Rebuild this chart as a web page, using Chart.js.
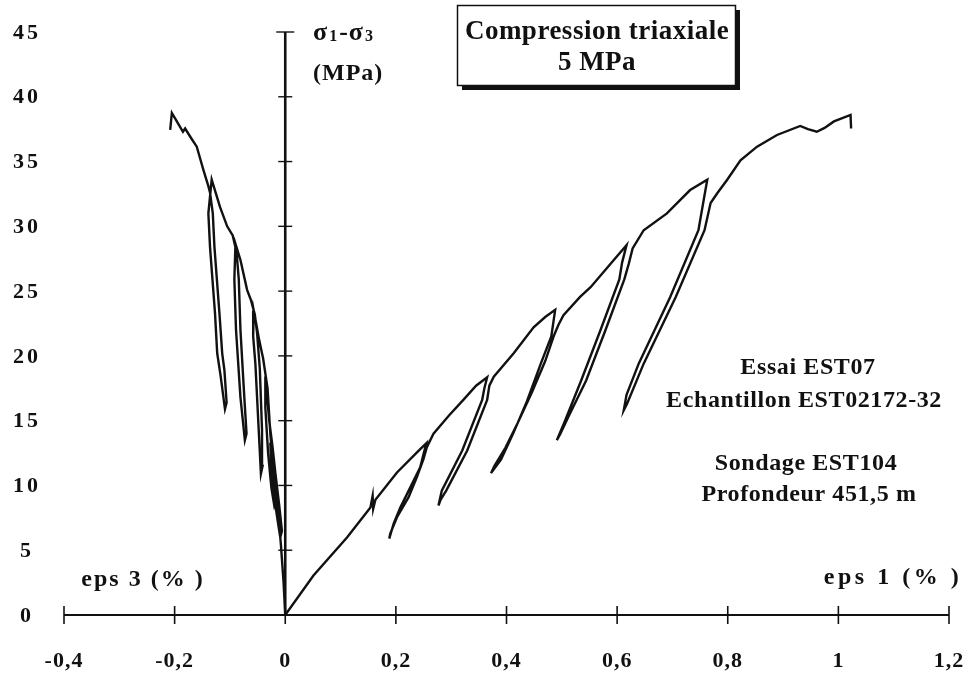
<!DOCTYPE html>
<html>
<head>
<meta charset="utf-8">
<script src="https://cdn.jsdelivr.net/npm/chart.js@4.4.0/dist/chart.umd.min.js"></script>
<style>
    html, body { margin: 0; padding: 0; background: #fff; }
    canvas { display: block; }
</style>
</head>
<body>
<canvas id="chart" width="971" height="675"></canvas>
<script>
(function () {
    "use strict";

    // Axial branch: eps 1 (%) vs sigma1 - sigma3 (MPa)
    const eps1 = [0, 0.051, 0.112, 0.154, 0.158, 0.159, 0.163, 0.202, 0.244, 0.255,
        0.244, 0.229, 0.208, 0.196, 0.188, 0.190, 0.202, 0.223, 0.238, 0.250, 0.256,
        0.268, 0.296, 0.322, 0.345, 0.365,
        0.360, 0.356, 0.320, 0.283, 0.277, 0.281, 0.291, 0.329, 0.365, 0.369,
        0.377, 0.413, 0.449, 0.470, 0.488,
        0.481, 0.462, 0.437, 0.412, 0.390, 0.372, 0.378, 0.398, 0.420, 0.446, 0.470, 0.486, 0.494,
        0.503, 0.533, 0.552, 0.594, 0.617,
        0.609, 0.604, 0.570, 0.535, 0.504, 0.491, 0.497, 0.513, 0.544, 0.579, 0.613, 0.621, 0.628,
        0.648, 0.690, 0.732, 0.763,
        0.758, 0.747, 0.696, 0.639, 0.617, 0.612, 0.618, 0.648, 0.706, 0.758, 0.769,
        0.781, 0.799, 0.823, 0.853, 0.889, 0.931, 0.945, 0.961, 0.975, 0.992, 1.022, 1.023];
    const stress1 = [0, 3.05, 6.0, 8.3, 9.2, 8.2, 8.9, 11.0, 12.8, 13.25,
        11.4, 10.1, 8.3, 7.05, 5.9, 6.3, 7.55, 9.1, 10.65, 12.05, 12.95,
        14.0, 15.4, 16.6, 17.7, 18.35,
        17.5, 16.6, 12.7, 9.6, 8.45, 8.9, 9.6, 12.7, 16.6, 17.7,
        18.4, 20.2, 22.2, 23.0, 23.55,
        21.5, 19.4, 16.5, 14.0, 12.0, 10.95, 11.5, 12.9, 14.8, 17.2, 19.6, 21.6, 22.4,
        23.15, 24.55, 25.3, 27.4, 28.55,
        27.2, 25.9, 22.0, 18.1, 14.8, 13.5, 13.95, 15.4, 18.1, 22.0, 25.9, 27.1, 28.3,
        29.7, 31.0, 32.8, 33.6,
        32.4, 29.7, 24.55, 19.4, 17.0, 15.8, 16.3, 19.4, 24.55, 29.7, 31.8,
        32.55, 33.6, 35.1, 36.15, 37.05, 37.75, 37.5, 37.3, 37.6, 38.1, 38.6, 37.55];

    // Lateral branch: eps 3 (%) vs sigma1 - sigma3 (MPa)
    const eps3 = [0, -0.003, -0.008, -0.014, -0.020, -0.025, -0.027,
        -0.025, -0.018, -0.012, -0.009, -0.006, -0.011, -0.018, -0.023,
        -0.029, -0.033, -0.036,
        -0.036, -0.031, -0.025, -0.020, -0.017, -0.021, -0.027, -0.032,
        -0.040, -0.047, -0.053, -0.057,
        -0.058, -0.054, -0.048, -0.044, -0.041, -0.042, -0.046, -0.051, -0.055,
        -0.062, -0.069, -0.081, -0.090,
        -0.092, -0.089, -0.081, -0.073, -0.070, -0.074, -0.081, -0.084, -0.088,
        -0.095, -0.105, -0.118, -0.133,
        -0.139, -0.136, -0.127, -0.123, -0.117, -0.109, -0.106, -0.110, -0.114, -0.119, -0.128, -0.131, -0.136,
        -0.139, -0.148, -0.160, -0.170, -0.181, -0.185, -0.196, -0.205, -0.208];
    const stress3 = [0, 2.5, 5.5, 8.5, 10.8, 12.5, 13.3,
        11.5, 8.5, 6.8, 6.0, 6.5, 8.5, 11.0, 13.0,
        15.0, 17.0, 18.4,
        16.0, 12.5, 9.8, 8.5, 9.0, 11.0, 14.0, 17.5,
        19.8, 21.2, 22.6, 23.5,
        21.5, 19.4, 14.3, 10.9, 11.5, 14.3, 19.0, 21.8, 23.2,
        24.3, 25.1, 27.4, 28.65,
        25.9, 22.0, 16.8, 13.5, 14.0, 16.8, 22.0, 25.9, 28.0,
        29.3, 30.0, 31.5, 33.6,
        31.0, 28.4, 23.3, 20.2, 18.5, 15.9, 16.4, 18.9, 20.2, 23.3, 28.4, 31.0, 32.6,
        33.1, 34.35, 36.15, 36.8, 37.55, 37.3, 38.1, 38.75, 37.45];

    const xTicks = [-0.4, -0.2, 0, 0.2, 0.4, 0.6, 0.8, 1, 1.2];
    const xTickLabels = ["-0,4", "-0,2", "0", "0,2", "0,4", "0,6", "0,8", "1", "1,2"];
    const yTicks = [0, 5, 10, 15, 20, 25, 30, 35, 40, 45];
    const yTickLabels = ["0", "5", "10", "15", "20", "25", "30", "35", "40", "45"];

    const font = (s) => "bold " + s + "px 'Liberation Serif', 'Times New Roman', serif";

    const toPoints = (xs, ys) => xs.map((x, i) => ({ x: x, y: ys[i] }));

    // Axes drawn at x = 0 and y = 0, like the original figure
    const crossAxes = {
        id: "crossAxes",
        beforeDatasetsDraw(chart) {
            const ctx = chart.ctx;
            const xs = chart.scales.x;
            const ys = chart.scales.y;
            const y0 = ys.getPixelForValue(0);
            const x0 = xs.getPixelForValue(0);

            ctx.save();
            ctx.strokeStyle = "#111";
            ctx.lineCap = "butt";

            // horizontal axis
            ctx.lineWidth = 2;
            ctx.beginPath();
            ctx.moveTo(xs.getPixelForValue(xTicks[0]), y0);
            ctx.lineTo(xs.getPixelForValue(xTicks[xTicks.length - 1]), y0);
            ctx.stroke();
            ctx.lineWidth = 1.6;
            xTicks.forEach((t) => {
                const px = xs.getPixelForValue(t);
                ctx.beginPath();
                ctx.moveTo(px, y0 - 9);
                ctx.lineTo(px, y0 + 9);
                ctx.stroke();
            });

            // vertical axis
            ctx.lineWidth = 2.6;
            ctx.beginPath();
            ctx.moveTo(x0, y0);
            ctx.lineTo(x0, ys.getPixelForValue(yTicks[yTicks.length - 1]));
            ctx.stroke();
            ctx.lineWidth = 1.4;
            yTicks.forEach((t, i) => {
                if (t === 0) return;
                const py = ys.getPixelForValue(t);
                const w = i === yTicks.length - 1 ? 9 : 7;
                ctx.beginPath();
                ctx.moveTo(x0 - w, py);
                ctx.lineTo(x0 + w, py);
                ctx.stroke();
            });

            // tick labels
            ctx.fillStyle = "#111";
            ctx.font = font(22);
            ctx.textAlign = "center";
            ctx.textBaseline = "middle";
            ctx.letterSpacing = "1px";
            xTicks.forEach((t, i) => {
                ctx.fillText(xTickLabels[i], xs.getPixelForValue(t), y0 + 46);
            });
            ctx.letterSpacing = "3px";
            yTicks.forEach((t, i) => {
                ctx.fillText(yTickLabels[i], 27, ys.getPixelForValue(t) + 1);
            });
            ctx.restore();
        },
        afterDraw(chart) {
            const ctx = chart.ctx;
            ctx.save();
            ctx.fillStyle = "#111";
            ctx.strokeStyle = "#111";
            ctx.textBaseline = "middle";

            // y axis title
            ctx.textAlign = "left";
            ctx.letterSpacing = "1px";
            ctx.font = font(26);
            let x = 313;
            ctx.fillText("σ", x, 33);
            x += ctx.measureText("σ").width + 1;
            ctx.font = font(16);
            ctx.fillText("1", x, 37);
            x += ctx.measureText("1").width + 1;
            ctx.font = font(26);
            ctx.fillText("-σ", x, 33);
            x += ctx.measureText("-σ").width + 1;
            ctx.font = font(16);
            ctx.fillText("3", x, 37);
            ctx.font = font(24);
            ctx.fillText("(MPa)", 313, 74);

            // framed title with shadow
            ctx.letterSpacing = "0px";
            ctx.lineWidth = 1.5;
            ctx.strokeRect(457.5, 5.5, 278, 80);
            ctx.lineWidth = 4;
            ctx.beginPath();
            ctx.moveTo(738, 10);
            ctx.lineTo(738, 88);
            ctx.lineTo(462, 88);
            ctx.stroke();
            ctx.textAlign = "center";
            ctx.font = font(27);
            ctx.letterSpacing = "0.5px";
            ctx.fillText("Compression triaxiale", 597, 32);
            ctx.fillText("5 MPa", 597, 63);

            // sample information
            ctx.font = font(24);
            ctx.letterSpacing = "0.6px";
            ctx.fillText("Essai EST07", 808, 368);
            ctx.fillText("Echantillon EST02172-32", 804, 401);
            ctx.fillText("Sondage EST104", 806, 464);
            ctx.fillText("Profondeur 451,5 m", 809, 495);

            // strain labels
            ctx.font = font(24);
            ctx.letterSpacing = "2px";
            ctx.fillText("eps 3 (% )", 143, 580);
            ctx.letterSpacing = "3.5px";
            ctx.fillText("eps 1 (% )", 893, 578);
            ctx.restore();
        },
    };

    const ctx = document.getElementById("chart").getContext("2d");

    new Chart(ctx, {
        type: "scatter",
        data: {
            datasets: [
                {
                    label: "eps 1",
                    data: toPoints(eps1, stress1),
                    showLine: true,
                    borderColor: "#111",
                    borderWidth: 2.4,
                    pointRadius: 0,
                    tension: 0,
                    fill: false,
                },
                {
                    label: "eps 3",
                    data: toPoints(eps3, stress3),
                    showLine: true,
                    borderColor: "#111",
                    borderWidth: 2.4,
                    pointRadius: 0,
                    tension: 0,
                    fill: false,
                },
            ],
        },
        options: {
            responsive: false,
            animation: false,
            events: [],
            layout: {
                padding: { left: 64, right: 22, top: 32, bottom: 60 },
            },
            plugins: {
                legend: { display: false },
                tooltip: { enabled: false },
            },
            scales: {
                x: { type: "linear", min: -0.4, max: 1.2, display: false },
                y: { type: "linear", min: 0, max: 45, display: false },
            },
        },
        plugins: [crossAxes],
    });
})();
</script>
</body>
</html>
